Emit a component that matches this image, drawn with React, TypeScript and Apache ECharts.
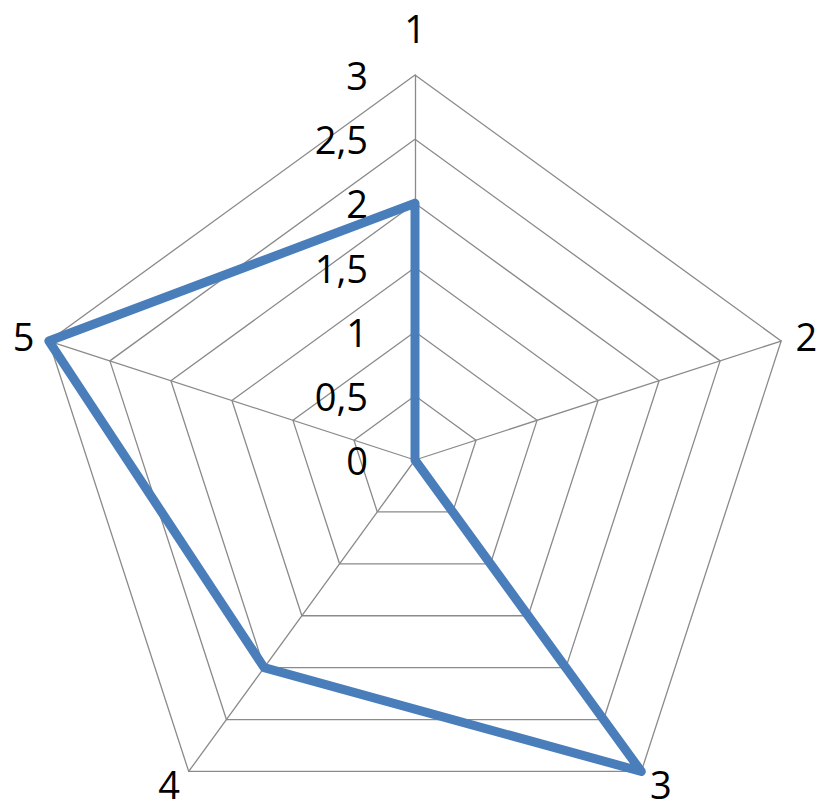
import React, { useEffect, useRef } from "react";
import * as echarts from "echarts";

const categories = ["1", "2", "3", "4", "5"];
const values = [2, 0, 3, 2, 3];
const axisMax = 3;
const splitCount = 6;

const FONT = "'Open Sans', 'Liberation Sans', sans-serif";

export default function App() {
  const ref = useRef<HTMLDivElement>(null);
  useEffect(() => {
    if (!ref.current) return;
    const chart = echarts.init(ref.current, null, { renderer: "svg" });
    // ECharts radar runs counter-clockwise; reorder so the reference runs clockwise
    const order = [0, ...categories.map((_, i) => i).slice(1).reverse()];
    const indicator = order.map((i, k) => ({
      name: categories[i],
      max: axisMax,
      min: 0,
      nameGap: k === 0 ? 28 : 15,
      axisLabel: { show: k === 0 },
    }));
    chart.setOption({
      animation: false,
      radar: {
        center: [415, 460],
        radius: 385,
        startAngle: 90,
        splitNumber: splitCount,
        shape: "polygon",
        indicator,
        axisName: { color: "#000", fontSize: 38, fontFamily: FONT },
        axisLine: { lineStyle: { color: "#8a8a8a", width: 1.3 } },
        splitLine: { lineStyle: { color: "#8a8a8a", width: 1.3 } },
        splitArea: { show: false },
        axisTick: { show: false },
        axisLabel: {
          show: false,
          margin: 47,
          color: "#000",
          fontSize: 38,
          fontFamily: FONT,
          formatter: (v: number) => String(v).replace(".", ","),
        },
      },
      series: [
        {
          type: "radar",
          symbol: "none",
          lineStyle: { color: "#4A7EBB", width: 9, join: "round", cap: "round" },
          data: [{ value: order.map((i) => values[i]) }],
        },
      ],
    });
    return () => chart.dispose();
  }, []);
  return (
    <div
      ref={ref}
      style={{ position: "absolute", left: 0, top: 0, width: 821, height: 801 }}
    />
  );
}
